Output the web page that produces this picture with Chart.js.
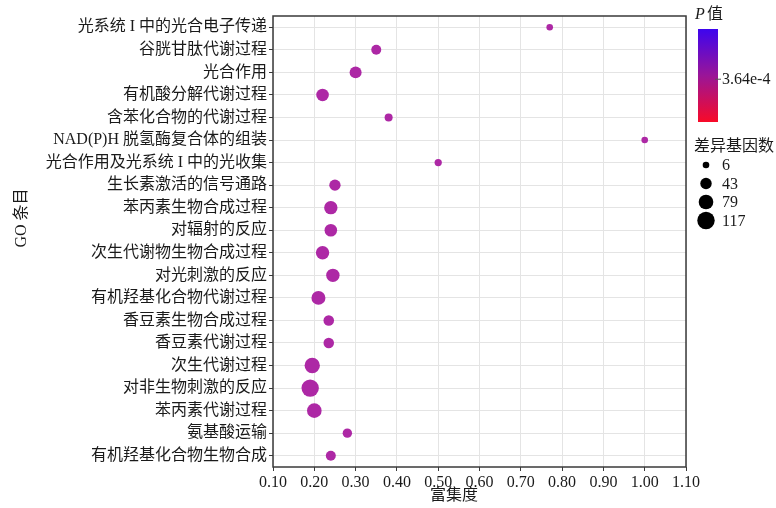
<!DOCTYPE html>
<html>
<head>
<meta charset="utf-8">
<script src="https://cdn.jsdelivr.net/npm/chart.js@4/dist/chart.umd.min.js"></script>
<style>
  html, body { margin: 0; padding: 0; background: #fff; }
  #wrap { width: 776px; height: 508px; }
</style>
</head>
<body>
<div id="wrap"><canvas id="goChart"></canvas></div>
<script>
const terms = [
  '光系统 I 中的光合电子传递',
  '谷胱甘肽代谢过程',
  '光合作用',
  '有机酸分解代谢过程',
  '含苯化合物的代谢过程',
  'NAD(P)H 脱氢酶复合体的组装',
  '光合作用及光系统 I 中的光收集',
  '生长素激活的信号通路',
  '苯丙素生物合成过程',
  '对辐射的反应',
  '次生代谢物生物合成过程',
  '对光刺激的反应',
  '有机羟基化合物代谢过程',
  '香豆素生物合成过程',
  '香豆素代谢过程',
  '次生代谢过程',
  '对非生物刺激的反应',
  '苯丙素代谢过程',
  '氨基酸运输',
  '有机羟基化合物生物合成',
]
const richFactor = [0.77, 0.35, 0.30, 0.22, 0.38, 1.00, 0.50, 0.25, 0.24, 0.24,
  0.22, 0.245, 0.21, 0.235, 0.235, 0.195, 0.19, 0.20, 0.28, 0.24]
const geneCount = [6, 30, 49, 55, 15, 6, 10, 42, 64, 55,
  64, 64, 71, 35, 35, 88, 117, 79, 25, 30]
const xTicks = [0.1, 0.2, 0.3, 0.4, 0.5, 0.6, 0.7, 0.8, 0.9, 1.0, 1.1]
const sizeBreaks = [6, 43, 79, 117]
const pTickLabels = ['3.64e-4']

const FONT = '"Liberation Serif", "Noto Sans CJK SC", serif'
const TEXT = '#1a1a1a'
const DOT = '#ad28a5'

// point area grows linearly with gene count
const R_MIN = 3.3
const R_MAX = 8.7
const radiusFor = (n) => {
  const t = (n - 6) / (117 - 6)
  return Math.sqrt(R_MIN * R_MIN + t * (R_MAX * R_MAX - R_MIN * R_MIN))
}

const points = terms.map((term, i) => ({ x: richFactor[i], y: term, r: radiusFor(geneCount[i]) }))

const decorations = {
  id: 'decorations',
  afterDraw(chart) {
    const { ctx, chartArea: a } = chart
    ctx.save()

    // panel frame
    ctx.strokeStyle = '#3a3a3a'
    ctx.lineWidth = 1.5
    ctx.strokeRect(a.left, a.top, a.right - a.left, a.bottom - a.top)

    ctx.fillStyle = TEXT
    ctx.font = `16px ${FONT}`
    ctx.textAlign = 'center'
    ctx.textBaseline = 'middle'
    ctx.fillText('富集度', 454, 496)

    ctx.save()
    ctx.translate(22, 218)
    ctx.rotate(-Math.PI / 2)
    ctx.fillText('GO 条目', 0, 0)
    ctx.restore()

    // colour bar
    const bx = a.right + 12
    const by = 29
    const bw = 20
    const bh = 93
    ctx.textAlign = 'left'
    ctx.font = `italic 16px ${FONT}`
    ctx.fillText('P', bx - 3, 15)
    ctx.font = `16px ${FONT}`
    ctx.fillText('值', bx + 9, 15)

    const grad = ctx.createLinearGradient(0, by, 0, by + bh)
    grad.addColorStop(0, '#3d05ee')
    grad.addColorStop(0.5, '#9a1598')
    grad.addColorStop(1, '#f80a28')
    ctx.fillStyle = grad
    ctx.fillRect(bx, by, bw, bh)

    ctx.strokeStyle = '#555'
    ctx.lineWidth = 1
    const ty = by + bh * 0.54
    ctx.beginPath()
    ctx.moveTo(bx + bw - 3, ty)
    ctx.lineTo(bx + bw + 3, ty)
    ctx.stroke()
    ctx.fillStyle = TEXT
    ctx.fillText(pTickLabels[0], bx + bw + 4, ty + 1)

    // size legend
    ctx.fillText('差异基因数', a.right + 8, 147)
    sizeBreaks.forEach((n, i) => {
      const cy = 165 + i * 18.5
      ctx.fillStyle = '#000'
      ctx.beginPath()
      ctx.arc(a.right + 20, cy, radiusFor(n), 0, Math.PI * 2)
      ctx.fill()
      ctx.fillStyle = TEXT
      ctx.fillText(String(n), a.right + 36, cy + 1)
    })

    ctx.restore()
  },
}

new Chart(document.getElementById('goChart'), {
  type: 'bubble',
  data: {
    datasets: [{
      data: points,
      backgroundColor: DOT,
      borderWidth: 0,
      hoverBorderWidth: 0,
    }],
  },
  options: {
    responsive: true,
    maintainAspectRatio: false,
    animation: false,
    events: [],
    layout: { padding: { top: 16, right: 90, left: 0, bottom: 0 } },
    plugins: {
      legend: { display: false },
      tooltip: { enabled: false },
    },
    scales: {
      x: {
        type: 'linear',
        min: xTicks[0],
        max: xTicks[xTicks.length - 1],
        afterBuildTicks: (scale) => { scale.ticks = xTicks.map((value) => ({ value })) },
        afterFit: (scale) => { scale.height = 41 },
        grid: { color: '#e4e4e4', lineWidth: 1, tickLength: 4, tickColor: '#3a3a3a' },
        border: { display: false },
        ticks: {
          color: TEXT,
          padding: 2,
          font: { family: FONT, size: 16 },
          callback: (v) => Number(v).toFixed(2),
        },
      },
      y: {
        type: 'category',
        labels: terms,
        offset: true,
        afterFit: (scale) => { scale.width = 273 },
        grid: { color: '#e4e4e4', lineWidth: 1, tickLength: 4, tickColor: '#3a3a3a' },
        border: { display: false },
        ticks: {
          color: TEXT,
          padding: 2,
          autoSkip: false,
          font: { family: FONT, size: 16 },
        },
      },
    },
  },
  plugins: [decorations],
})
</script>
</body>
</html>
